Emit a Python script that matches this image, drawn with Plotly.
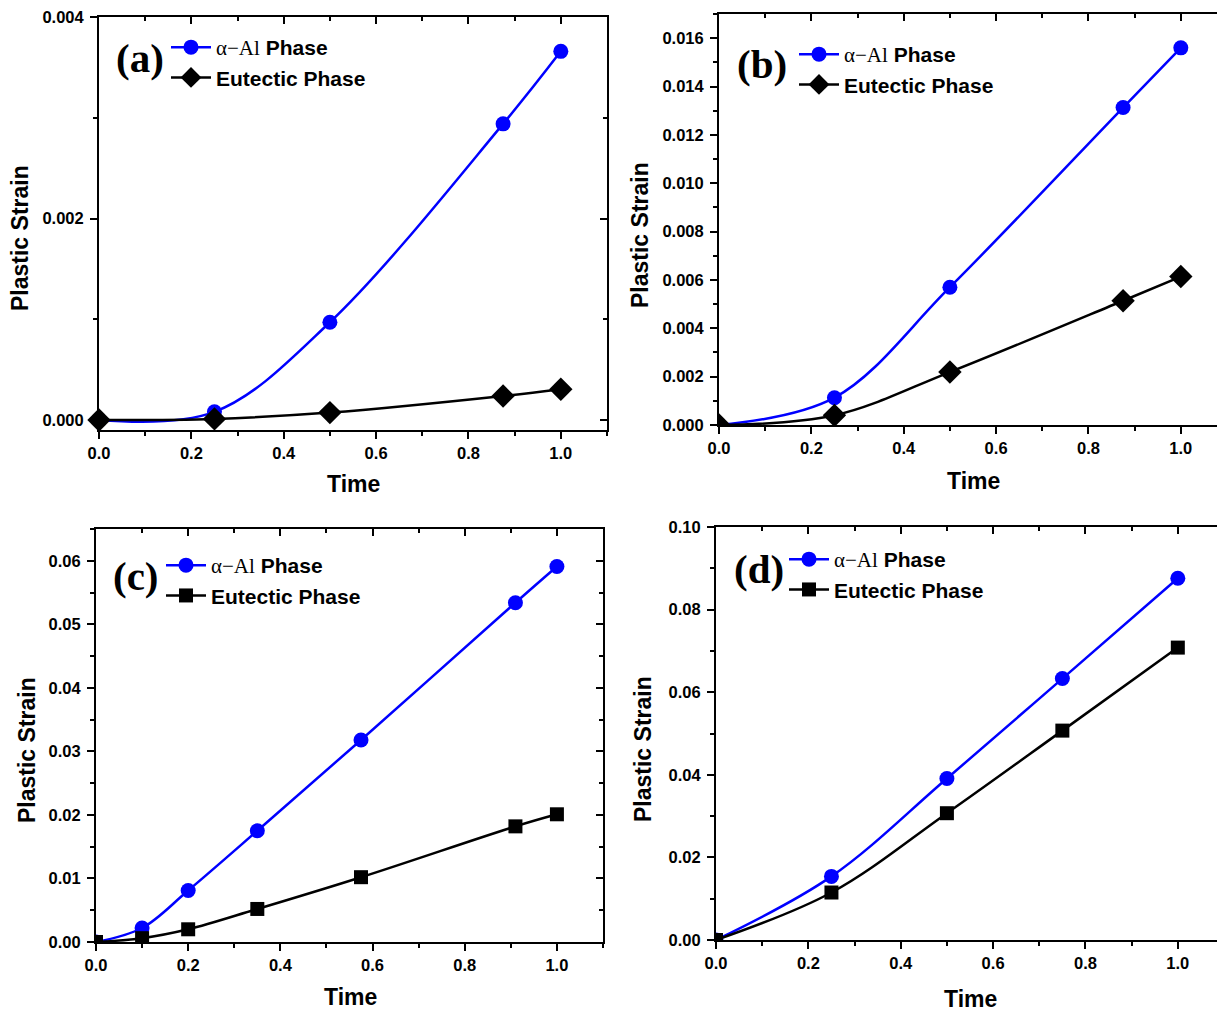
import plotly.graph_objects as go

W, H = 1225, 1012
OFF = 8  # page body margin of the rendered html

# ---------------- data ----------------
a_time = [0.0, 0.25, 0.5, 0.875, 1.0]
a_alpha = [0.0, 0.00008, 0.00097, 0.00294, 0.00366]
a_eut = [0.0, 0.00001, 0.000073, 0.000238, 0.000305]

b_time = [0.0, 0.25, 0.5, 0.875, 1.0]
b_alpha = [0.0, 0.00113, 0.0057, 0.01313, 0.0156]
b_eut = [0.0, 0.0004, 0.00219, 0.00514, 0.00614]

c_time = [0.0, 0.1, 0.2, 0.35, 0.575, 0.91, 1.0]
c_alpha = [0.0, 0.0022, 0.0081, 0.0175, 0.0318, 0.0534, 0.0591]
c_eut = [0.0, 0.0006, 0.002, 0.0052, 0.0102, 0.0182, 0.0201]

d_time = [0.0, 0.25, 0.5, 0.75, 1.0]
d_alpha = [0.0, 0.0154, 0.0391, 0.0633, 0.0876]
d_eut = [0.0, 0.0115, 0.0307, 0.0507, 0.0708]

panel_labels = ["(a)", "(b)", "(c)", "(d)"]
x_title = "Time"
y_title = "Plastic Strain"
alpha_name = '<span style="font-family:Liberation Serif;font-weight:normal">α−Al</span> Phase'
eut_name = "Eutectic Phase"


def px(x):
    return (x - OFF) / W


def py(y):
    return 1 - (y - OFF) / H


# ---------------- layout geometry (reference pixels) ----------------
panels = [
    dict(box=(99, 607, 17, 430), xr=[0, 1.1], yr=[-0.0001, 0.004001], ydt=0.002, ymin=0.001,
         yfmt=".3f", t=a_time, al=a_alpha, eu=a_eut, esym="diamond", esize=18, clip=False,
         leg=(166, 27), lab=(140, 62), ytl=(20, 238), xtl=(353, 484)),
    dict(box=(719, 1227, 14, 425), xr=[0, 1.1], yr=[0, 0.017], ydt=0.002, ymin=0.001,
         yfmt=".3f", t=b_time, al=b_alpha, eu=b_eut, esym="diamond", esize=18, clip=True,
         leg=(794, 34), lab=(762, 68), ytl=(640, 235), xtl=(973, 481)),
    dict(box=(96, 603, 529, 942), xr=[0, 1.1], yr=[0, 0.065], ydt=0.01, ymin=0.005,
         yfmt=".2f", t=c_time, al=c_alpha, eu=c_eut, esym="square", esize=14, clip=True,
         leg=(161, 545), lab=(136, 580), ytl=(27, 750), xtl=(350, 997)),
    dict(box=(716, 1224, 527, 940), xr=[0, 1.1], yr=[0, 0.100001], ydt=0.02, ymin=0.01,
         yfmt=".2f", t=d_time, al=d_alpha, eu=d_eut, esym="square", esize=14, clip=True,
         leg=(784, 539), lab=(759, 573), ytl=(643, 749), xtl=(970, 999)),
]

fig = go.Figure()
layout = dict(
    template="none",
    width=W, height=H, margin=dict(l=0, r=0, t=0, b=0, pad=0),
    paper_bgcolor="white", plot_bgcolor="white", showlegend=True,
    annotations=[],
)

tickfont = dict(family="Liberation Sans", size=16.5, color="black", weight="bold")
titlefont = dict(family="Liberation Sans", size=23, color="black", weight="bold")

for i, p in enumerate(panels):
    n = i + 1
    xs = "" if n == 1 else str(n)
    x0, x1, y0, y1 = p["box"]
    xdom = [px(x0), min(px(x1), 1.0)]
    ydom = [py(y1), py(y0)]
    legname = "legend" if n == 1 else f"legend{n}"

    fig.add_trace(go.Scatter(
        x=p["t"], y=p["al"], name=alpha_name, mode="lines+markers",
        line=dict(color="#0000FF", width=2.5, shape="spline", smoothing=1.0),
        marker=dict(symbol="circle", size=15, color="#0000FF"),
        xaxis=f"x{xs}", yaxis=f"y{xs}", legend=legname, cliponaxis=p["clip"],
    ))
    fig.add_trace(go.Scatter(
        x=p["t"], y=p["eu"], name=eut_name, mode="lines+markers",
        line=dict(color="black", width=2.5, shape="spline", smoothing=1.0),
        marker=dict(symbol=p["esym"], size=p["esize"], color="black"),
        xaxis=f"x{xs}", yaxis=f"y{xs}", legend=legname, cliponaxis=p["clip"],
    ))

    layout[f"xaxis{xs}"] = dict(
        domain=xdom, anchor=f"y{xs}", range=p["xr"], dtick=0.2, tick0=0, tickformat=".1f",
        ticks="outside", ticklen=7, tickwidth=1.5, tickcolor="black", automargin=False,
        minor=dict(ticks="outside", dtick=0.1, tick0=0, ticklen=4, tickwidth=1.5, tickcolor="black"),
        showline=True, linecolor="black", linewidth=2, showgrid=False, zeroline=False,
        tickfont=tickfont, ticklabeloverflow="allow",
    )
    layout[f"yaxis{xs}"] = dict(
        domain=ydom, anchor=f"x{xs}", range=p["yr"], dtick=p["ydt"], tick0=0, tickformat=p["yfmt"],
        ticks="outside", ticklen=7, tickwidth=1.5, tickcolor="black", automargin=False,
        minor=dict(ticks="outside", dtick=p["ymin"], tick0=0, ticklen=4, tickwidth=1.5, tickcolor="black"),
        showline=True, linecolor="black", linewidth=2, showgrid=False, zeroline=False,
        tickfont=tickfont, ticklabelstandoff=3, ticklabeloverflow="allow",
    )
    # mirrored frame with inward ticks (top & right)
    tx = str(n + 4)
    layout[f"xaxis{tx}"] = dict(
        domain=xdom, anchor=f"y{xs}", overlaying=f"x{xs}", side="top", range=p["xr"],
        dtick=0.2, tick0=0, ticks="inside", ticklen=7, tickwidth=1.5, tickcolor="black",
        minor=dict(ticks="inside", dtick=0.1, tick0=0, ticklen=4, tickwidth=1.5, tickcolor="black"),
        showline=True, linecolor="black", linewidth=2, showgrid=False, zeroline=False,
        showticklabels=False, automargin=False,
    )
    layout[f"yaxis{tx}"] = dict(
        domain=ydom, anchor=f"x{xs}", overlaying=f"y{xs}", side="right", range=p["yr"],
        dtick=p["ydt"], tick0=0, ticks="inside", ticklen=7, tickwidth=1.5, tickcolor="black",
        minor=dict(ticks="inside", dtick=p["ymin"], tick0=0, ticklen=4, tickwidth=1.5, tickcolor="black"),
        showline=True, linecolor="black", linewidth=2, showgrid=False, zeroline=False,
        showticklabels=False, automargin=False,
    )
    fig.add_trace(go.Scatter(x=[None], y=[None], xaxis=f"x{tx}", yaxis=f"y{tx}",
                             showlegend=False, hoverinfo="skip"))

    lx, ly = p["leg"]
    layout[legname] = dict(
        x=px(lx), y=py(ly), xanchor="left", yanchor="top",
        bgcolor="rgba(0,0,0,0)", borderwidth=0, itemwidth=40, tracegroupgap=0,
        font=dict(family="Liberation Sans", size=21, color="black", weight="bold"),
    )
    ax, ay = p["lab"]
    layout["annotations"].append(dict(
        text=panel_labels[i], xref="paper", yref="paper", x=px(ax), y=py(ay - 4),
        xanchor="center", yanchor="middle", showarrow=False,
        font=dict(family="Liberation Serif", size=41, color="black", weight="bold"),
    ))
    tx_, ty_ = p["ytl"]
    layout["annotations"].append(dict(
        text=y_title, xref="paper", yref="paper", x=px(tx_), y=py(ty_), textangle=-90,
        xanchor="center", yanchor="middle", showarrow=False, font=titlefont,
    ))
    tx_, ty_ = p["xtl"]
    layout["annotations"].append(dict(
        text=x_title, xref="paper", yref="paper", x=px(tx_), y=py(ty_),
        xanchor="center", yanchor="middle", showarrow=False, font=titlefont,
    ))

fig.update_layout(**layout)
fig.write_html("out.html")
